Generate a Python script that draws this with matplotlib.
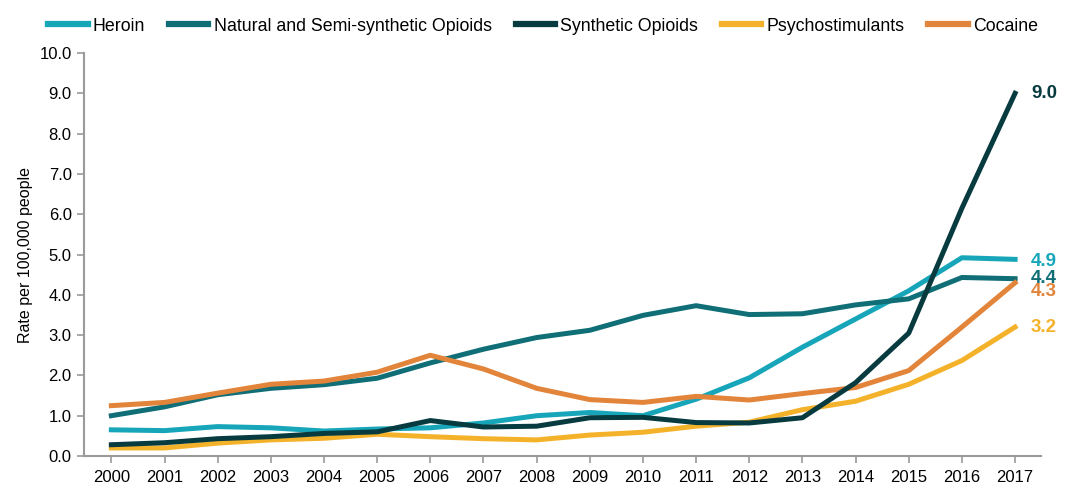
import numpy as np
import matplotlib.pyplot as plt

plt.rcParams['font.family'] = ['Liberation Sans', 'DejaVu Sans']

# years on the x axis
years = list(range(2000, 2018))

# rates per 100,000 people
heroin = [0.65, 0.63, 0.73, 0.70, 0.62, 0.67, 0.70, 0.82, 1.00, 1.08, 1.00, 1.41, 1.94, 2.70, 3.40, 4.10, 4.92, 4.88]
natural = [1.00, 1.22, 1.52, 1.68, 1.77, 1.93, 2.31, 2.65, 2.94, 3.12, 3.49, 3.73, 3.51, 3.53, 3.75, 3.90, 4.43, 4.40]
synthetic = [0.28, 0.33, 0.43, 0.48, 0.56, 0.60, 0.88, 0.72, 0.74, 0.95, 0.96, 0.83, 0.82, 0.95, 1.82, 3.05, 6.15, 9.00]
psycho = [0.20, 0.20, 0.32, 0.40, 0.44, 0.54, 0.48, 0.43, 0.40, 0.52, 0.59, 0.74, 0.84, 1.15, 1.36, 1.78, 2.37, 3.20]
cocaine = [1.25, 1.33, 1.56, 1.78, 1.86, 2.08, 2.50, 2.16, 1.68, 1.40, 1.33, 1.48, 1.39, 1.55, 1.70, 2.12, 3.20, 4.30]

names = ["Heroin", "Natural and Semi-synthetic Opioids", "Synthetic Opioids", "Psychostimulants", "Cocaine"]
series = [heroin, natural, synthetic, psycho, cocaine]
colors = ["#17a6b9", "#0f6e76", "#073b40", "#f4b22b", "#e2843a"]
end_labels = ["4.9", "4.4", "9.0", "3.2", "4.3"]
label_offsets = [-0.05, 0.0, 0.0, 0.0, -0.23]   # nudge 4.3 below 4.4 like the original

fig = plt.figure(figsize=(10.8, 5.03), dpi=100)
ax = fig.add_axes([0.078, 0.0934, 0.886, 0.8012])

for name, vals, c in zip(names, series, colors):
    ax.plot(years, vals, color=c, linewidth=3.6, label=name)

# draw the highlighted synthetic line on top
ax.lines[2].set_zorder(3)

for vals, c, txt, off in zip(series, colors, end_labels, label_offsets):
    ax.text(2017.3, vals[-1] + off, txt, color=c, fontsize=13.5, fontweight="bold",
            va="center", ha="left", clip_on=False)

ax.set_xlim(1999.49, 2017.49)
ax.set_ylim(0, 10)
ax.set_xticks(years)
ax.set_yticks(np.arange(0, 10.1, 1.0))
ax.set_yticklabels([f"{v:.1f}" for v in np.arange(0, 10.1, 1.0)])
ax.tick_params(axis="both", labelsize=12, color="#9a9a9a", length=5, width=1.2, pad=5)
ax.tick_params(axis="y", pad=4)
ax.set_ylabel("Rate per 100,000 people", fontsize=11.5, labelpad=5)

for s in ["top", "right"]:
    ax.spines[s].set_visible(False)
for s in ["left", "bottom"]:
    ax.spines[s].set_color("#9a9a9a")
    ax.spines[s].set_linewidth(1.5)

leg = fig.legend(loc="upper left", bbox_to_anchor=(0.03, 0.997), ncol=5, frameon=False,
                 fontsize=12.8, handlelength=2.2, handletextpad=0.3, columnspacing=1.35)
for h in leg.get_lines():
    h.set_linewidth(4.5)

fig.savefig("out.png", dpi=100)
